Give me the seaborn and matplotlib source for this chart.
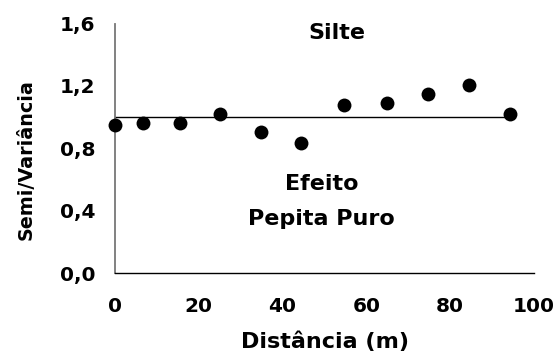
import matplotlib
matplotlib.use("Agg")
import matplotlib.pyplot as plt
import seaborn as sns
import pandas as pd
from matplotlib.ticker import FuncFormatter

# Data
distancia = [0.0, 6.8, 15.4, 25.1, 34.8, 44.5, 54.7, 64.9, 74.7, 84.4, 94.2]
semivariancia = [0.947, 0.961, 0.961, 1.019, 0.903, 0.831, 1.075, 1.090, 1.148, 1.206, 1.019]
patamar_x = [0.0, 94.2]
patamar_y = [1.0, 1.0]
x_ticks = [0, 20, 40, 60, 80, 100]
y_ticks = [0.0, 0.4, 0.8, 1.2, 1.6]

sns.set_style("white")
plt.rcParams['font.family'] = ['DejaVu Sans']
plt.rcParams['font.weight'] = 'bold'
plt.rcParams['text.color'] = 'black'
plt.rcParams['axes.labelcolor'] = 'black'
plt.rcParams['xtick.color'] = 'black'
plt.rcParams['ytick.color'] = 'black'

df = pd.DataFrame({"d": distancia, "g": semivariancia})
df_line = pd.DataFrame({"d": patamar_x, "g": patamar_y})

fig = plt.figure(figsize=(5.59, 3.54), dpi=100)
ax = fig.add_axes([0.2057, 0.2288, 0.7496, 0.7048])

sns.lineplot(data=df_line, x="d", y="g", color="black", linewidth=1.0, ax=ax)
sns.scatterplot(data=df, x="d", y="g", color="black", s=100, edgecolor="black",
                linewidth=0, ax=ax, zorder=3, clip_on=False)

ax.set_xlim(0, 100)
ax.set_ylim(0, 1.6)
ax.set_xticks(x_ticks)
ax.set_yticks(y_ticks)
ax.yaxis.set_major_formatter(FuncFormatter(lambda v, p: f"{v:.1f}".replace(".", ",")))
ax.xaxis.set_major_formatter(FuncFormatter(lambda v, p: f"{v:.0f}"))

for s in ["top", "right"]:
    ax.spines[s].set_visible(False)
ax.spines["left"].set_color("#777777")
ax.spines["left"].set_linewidth(1.3)
ax.spines["bottom"].set_color("black")
ax.spines["bottom"].set_linewidth(1.0)

ax.tick_params(axis="y", direction="out", length=5, width=1, color="#555555",
               labelcolor="black", labelsize=14.5, pad=9)
ax.tick_params(axis="x", direction="out", length=5, width=1, color="black",
               labelcolor="black", labelsize=14.5, pad=12)
for lab in ax.get_xticklabels() + ax.get_yticklabels():
    lab.set_fontweight("bold")

ax.set_xlabel("Distância (m)", fontsize=16, fontweight="bold", color="black")
ax.xaxis.set_label_coords(0.501, -0.235)
ax.set_ylabel("Semi/Variância", fontsize=13.8, fontweight="bold", color="black")
ax.yaxis.set_label_coords(-0.19, 0.455)

ax.text(53, 1.54, "Silte", ha="center", va="center", fontsize=16,
        fontweight="bold", color="black")
ax.text(49.3, 0.573, "Efeito", ha="center", va="center", fontsize=16,
        fontweight="bold", color="black")
ax.text(49.3, 0.347, "Pepita Puro", ha="center", va="center", fontsize=16,
        fontweight="bold", color="black")

fig.savefig("out.png", dpi=100)
